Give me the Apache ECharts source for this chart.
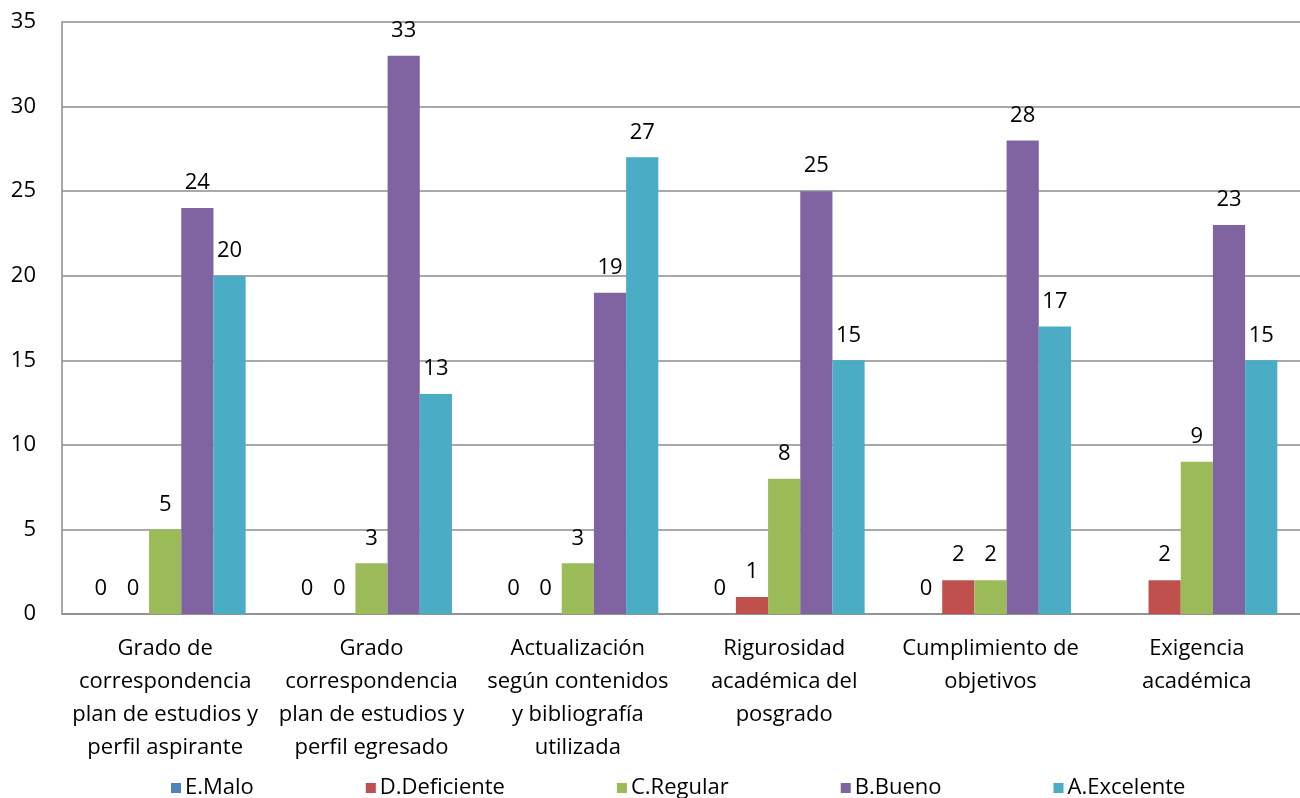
<!DOCTYPE html>
<html>
<head>
<meta charset="utf-8">
<script src="https://cdn.jsdelivr.net/npm/echarts@6/dist/echarts.min.js"></script>
<style>html,body{margin:0;padding:0;background:#fff}#c{width:1300px;height:798px}</style>
</head>
<body>
<div id="c"></div>
<script>
const categories = [
  "Grado de\ncorrespondencia\nplan de estudios y\nperfil aspirante",
  "Grado\ncorrespondencia\nplan de estudios y\nperfil egresado",
  "Actualización\nsegún contenidos\ny bibliografía\nutilizada",
  "Rigurosidad\nacadémica del\nposgrado",
  "Cumplimiento de\nobjetivos",
  "Exigencia\nacadémica"
];
const seriesNames = ["E.Malo", "D.Deficiente", "C.Regular", "B.Bueno", "A.Excelente"];
const eMalo = [0, 0, 0, 0, 0, null];
const dDeficiente = [0, 0, 0, 1, 2, 2];
const cRegular = [5, 3, 3, 8, 2, 9];
const bBueno = [24, 33, 19, 25, 28, 23];
const aExcelente = [20, 13, 27, 15, 17, 15];
const yTicks = [0, 5, 10, 15, 20, 25, 30, 35];
const colors = ["#4F81BD", "#C0504D", "#9BBB59", "#8064A2", "#4BACC6"];

const FONT = "Open Sans";
const FS = 22;
const values = [eMalo, dDeficiente, cRegular, bBueno, aExcelente];
const chart = echarts.init(document.getElementById('c'), null, {renderer: 'canvas'});
chart.setOption({
  animation: false,
  textStyle: {fontFamily: FONT},
  color: colors,
  grid: {left: 62, right: 0, top: 22, bottom: 184, containLabel: false},
  legend: {
    bottom: -6, left: 166,
    itemWidth: 10, itemHeight: 10, itemGap: 112,
    icon: 'rect',
    textStyle: {fontFamily: FONT, fontSize: FS, color: '#000', padding: [0,0,0,-1]},
    data: seriesNames
  },
  xAxis: {
    type: 'category',
    data: categories,
    axisLine: {lineStyle: {color: '#8c8c8c', width: 1.5}},
    axisTick: {show: false},
    axisLabel: {interval: 0, color: '#000', fontSize: FS, fontFamily: FONT, lineHeight: 33, margin: 18}
  },
  yAxis: {
    type: 'value', min: yTicks[0], max: yTicks[yTicks.length-1], interval: 5,
    axisLine: {show: true, lineStyle: {color: '#8c8c8c', width: 1.5}},
    axisTick: {show: false},
    splitLine: {lineStyle: {color: '#8c8c8c', width: 1.5}},
    axisLabel: {color: '#000', fontSize: FS, fontFamily: FONT, margin: 26}
  },
  series: seriesNames.map((n, i) => ({
    name: n, type: 'bar', data: values[i],
    barGap: '0%', barCategoryGap: '22%',
    itemStyle: {color: colors[i]},
    label: {show: true, position: 'top', distance: 14, color: '#000', fontSize: FS, fontFamily: FONT}
  }))
});
</script>
</body>
</html>
